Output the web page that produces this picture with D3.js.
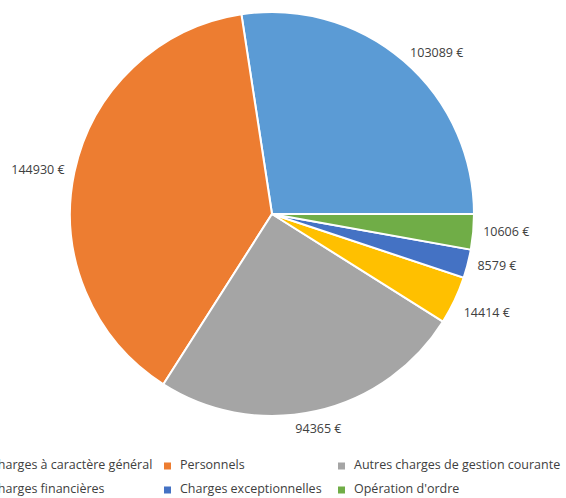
<!DOCTYPE html>
<html>
<head>
<meta charset="utf-8">
<script src="https://cdn.jsdelivr.net/npm/d3@7"></script>
<style>
  body { margin: 0; background: #fff; overflow: hidden; }
  svg { display: block; font-family: "Open Sans", sans-serif; }
</style>
</head>
<body>
<div id="chart"></div>
<script>
const categories = [
    "Charges à caractère général",
    "Personnels",
    "Autres charges de gestion courante",
    "Charges financières",
    "Charges exceptionnelles",
    "Opération d'ordre"
];
const values = [103089, 144930, 94365, 14414, 8579, 10606];
const colors = ["#5B9BD5", "#ED7D31", "#A5A5A5", "#FFC000", "#4472C4", "#70AD47"];

const width = 566;
const height = 498;
const cx = 272;
const cy = 214;
const radius = 202;
const labelRadius = 212;

const svg = d3.select("#chart")
    .append("svg")
    .attr("width", width)
    .attr("height", height);

// slices run counterclockwise from 3 o'clock, like the original
const pie = d3.pie()
    .sort(null)
    .startAngle(Math.PI / 2)
    .endAngle(Math.PI / 2 - 2 * Math.PI);

const arcs = pie(values).map((a, i) => Object.assign(a, {i: i}));

const arc = d3.arc().innerRadius(0).outerRadius(radius);

const g = svg.append("g").attr("transform", `translate(${cx},${cy})`);

g.selectAll(".slice")
    .data(arcs)
    .enter()
    .append("path")
    .attr("class", "slice")
    .attr("d", arc)
    .style("fill", d => colors[d.i])
    .style("stroke", "#fff")
    .style("stroke-width", 2);

g.selectAll(".label")
    .data(arcs)
    .enter()
    .append("text")
    .attr("class", "label")
    .each(function(d) {
        const mid = (d.startAngle + d.endAngle) / 2;
        const s = Math.sin(mid);
        const c = -Math.cos(mid);
        let anchor = "middle";
        if(s > 0.3) { anchor = "start"; }
        else if(s < -0.3) { anchor = "end"; }
        d3.select(this)
            .attr("x", s * labelRadius)
            .attr("y", c * labelRadius + (c > 0.3 ? 9 : 0))
            .attr("text-anchor", anchor);
    })
    .attr("dominant-baseline", "middle")
    .style("font-size", "12.5px")
    .style("fill", "#404040")
    .text(d => d.value + " €");

// legend, three columns, two rows (the first column is cut at the left edge)
const legendCols = [-26, 164, 338];
const legendRows = [466, 490];

const legend = svg.selectAll(".legend")
    .data(categories)
    .enter()
    .append("g")
    .attr("class", "legend")
    .attr("transform", (d, i) => `translate(${legendCols[i % 3]},${legendRows[Math.floor(i / 3)]})`);

legend.append("rect")
    .attr("x", 0)
    .attr("y", -3.5)
    .attr("width", 7)
    .attr("height", 7)
    .style("fill", (d, i) => colors[i]);

legend.append("text")
    .attr("x", 16)
    .attr("y", 0)
    .attr("dominant-baseline", "middle")
    .style("font-size", "12.5px")
    .style("fill", "#404040")
    .text(d => d);
</script>
</body>
</html>
